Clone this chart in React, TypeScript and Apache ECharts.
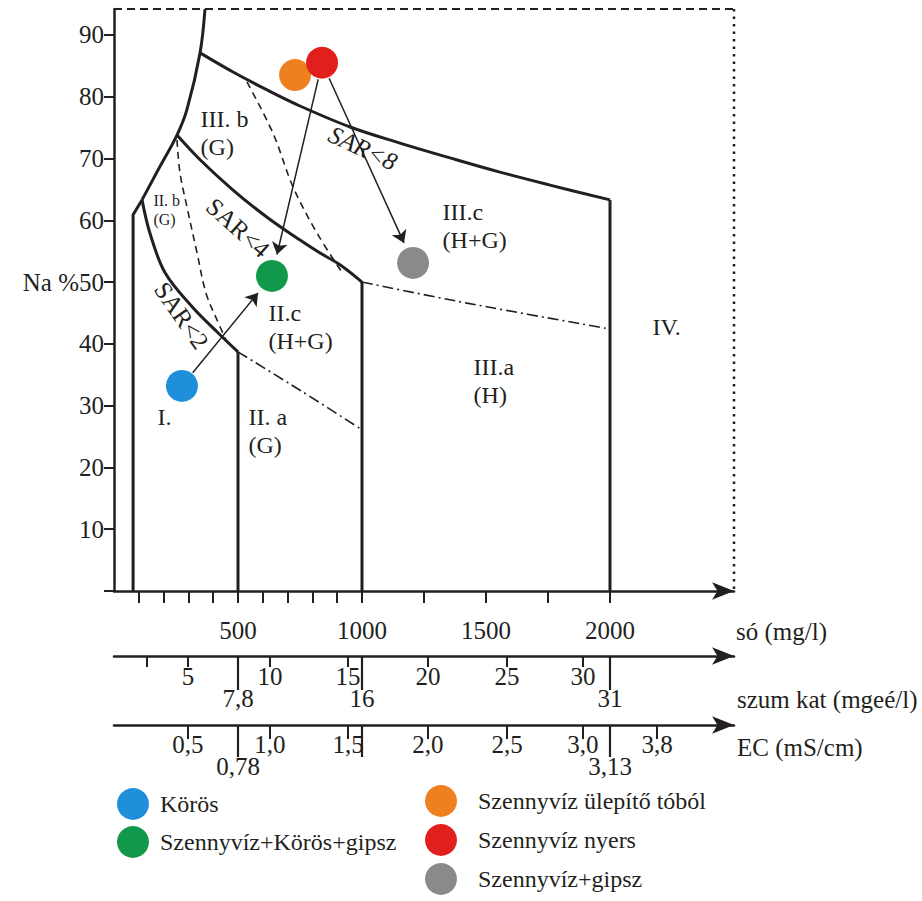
import React, { useEffect, useRef } from 'react';
import * as echarts from 'echarts';

// ---------- data ----------
const yTickValues = [0, 10, 20, 30, 40, 50, 60, 70, 80, 90];
const yLabelValues = [10, 20, 30, 40, 50, 60, 70, 80, 90];
const yMax = 94.2;
const xMax = 2500;

const soTickValues = [100, 200, 300, 400, 500, 600, 700, 800, 900, 1000, 1250, 1500, 1750, 2000];
const soLabelValues = [500, 1000, 1500, 2000];

// szum kat (mgeé/l) scale, expressed at só (mg/l) positions
const szumTickSo = [133, 298, 629, 944, 1266, 1585, 1891];
const szumTickLabels = ['', '5', '10', '15', '20', '25', '30'];
const szumLongSo = [500, 1000, 2000];
const szumLongLabels = ['7,8', '16', '31'];

// EC (mS/cm) scale, expressed at só (mg/l) positions
const ecTickSo = [298, 629, 944, 1266, 1585, 1891, 2190];
const ecTickLabels = ['0,5', '1,0', '1,5', '2,0', '2,5', '3,0', '3,8'];
const ecLongSo = [500, 1000, 2000];
const ecLongLabels = ['0,78', '', '3,13'];

// boundary curves [só, Na%]
const leftEdge = [[77, 0], [77, 60.9], [113, 63.3]];
const upperLeft = [[113, 63.3], [177, 68.1], [254, 73.8], [294, 77.9], [347, 87.1], [367, 94.2]];
const sar2 = [[113, 63.3], [145, 57.9], [206, 51.5], [315, 46.0], [419, 41.8], [500, 38.7]];
const sar2Ext = [[500, 38.7], [750, 32.5], [1000, 26.1]];
const sar4 = [[254, 73.8], [347, 69.8], [480, 64.9], [617, 60.5], [750, 56.8], [831, 54.7], [911, 52.8], [1000, 50.0]];
const sar4Ext = [[1000, 50.0], [1423, 46.6], [2000, 42.4]];
const sar8 = [[347, 87.1], [480, 84.0], [617, 81.1], [750, 78.5], [952, 75.1], [1153, 72.5], [1355, 70.1], [1556, 67.8], [1758, 65.7], [2000, 63.3]];
const v500 = [[500, 0], [500, 38.7]];
const v1000 = [[1000, 0], [1000, 50.0]];
const v2000 = [[2000, 0], [2000, 63.3]];
const dashA = [[254, 73.0], [266, 67.7], [294, 62.2], [335, 54.7], [371, 48.2], [415, 43.9], [452, 40.6]];
const dashB = [[536, 82.4], [641, 74.1], [722, 65.4], [819, 57.9], [919, 51.6]];

// region labels
const regionTexts = ['III. b\n(G)', 'II. b\n(G)', 'II.c\n(H+G)', 'I.', 'II. a\n(G)', 'III.c\n(H+G)', 'III.a\n(H)', 'IV.'];
const regionAnchors = [[347, 74.1], [157, 61.7], [621, 42.8], [173, 28.2], [540, 25.9], [1323, 59.0], [1448, 34.0], [2169, 42.7]];
const sarTexts = ['SAR<2', 'SAR<4', 'SAR<8'];
const sarAnchors = [[272, 44.6], [500, 58.8], [1004, 71.7]];

// water samples
const pointNames = ['Körös', 'Szennyvíz+Körös+gipsz', 'Szennyvíz ülepítő tóból', 'Szennyvíz nyers', 'Szennyvíz+gipsz'];
const pointSo = [274, 637, 730, 839, 1206];
const pointNa = [33.2, 51.0, 83.5, 85.5, 53.1];
const arrowPairs = [[0, 1], [3, 1], [3, 4]];

// ---------- styles ----------
const FONT = "'Liberation Serif', 'Times New Roman', serif";
const INK = '#231f20';
const pointColors = ['#1f8fdb', '#12984a', '#ef8020', '#e1201e', '#8a8a8a'];
const sarRotate = [-55, -42, -25];
const NUM = 25;
const TXT = 24;

function pick(list: number[], labels: string[], v: number) {
  for (let i = 0; i < list.length; i++) if (Math.abs(list[i] - v) < 0.5) return labels[i];
  return '';
}

function curve(id: string, data: number[][], lineStyle: any, smooth: number | boolean = false) {
  return {
    id, type: 'line', xAxisIndex: 0, yAxisIndex: 0, data, symbol: 'none', showSymbol: false,
    smooth, lineStyle, silent: true, clip: false, z: 2,
  };
}

export default function App() {
  const ref = useRef<HTMLDivElement>(null);
  useEffect(() => {
    if (!ref.current) return;
    const chart = echarts.init(ref.current, null, { renderer: 'svg' });
    const solid = { color: INK, width: 3 };
    const dashed = { color: INK, width: 1.6, type: [7, 5] };
    const dashDot = { color: INK, width: 1.6, type: [11, 4, 2, 4] };
    const txt = { fontFamily: FONT, color: INK };

    const baseX = {
      type: 'value', gridIndex: 0, min: 0, max: xMax, position: 'bottom',
      splitLine: { show: false },
    };
    const regionLabel = (extra: any) => ({
      show: true, fontFamily: FONT, color: INK, opacity: 1,
      textBorderWidth: 0, textBorderColor: 'transparent', textShadowBlur: 0, ...extra,
    });

    const option: any = {
      animation: false,
      backgroundColor: '#ffffff',
      grid: { left: 114, top: 9, width: 620, height: 582, containLabel: false, outerBoundsMode: 'none' },
      xAxis: [
        {
          ...baseX,
          axisLine: { onZero: false, lineStyle: { color: INK, width: 2.5 }, symbol: ['none', 'arrow'], symbolSize: [13, 22] },
          axisTick: { show: true, inside: false, length: 12, customValues: soTickValues, lineStyle: { color: INK, width: 2 } },
          axisLabel: { show: true, customValues: soLabelValues, margin: 27, fontSize: NUM, ...txt, formatter: (v: number) => String(v) },
        },
        {
          ...baseX, offset: 65,
          axisLine: { onZero: false, lineStyle: { color: INK, width: 2.5 }, symbol: ['none', 'arrow'], symbolSize: [13, 22] },
          axisTick: { show: true, inside: false, length: 11, customValues: szumTickSo, lineStyle: { color: INK, width: 2 } },
          axisLabel: { show: true, customValues: szumTickSo, margin: 8, fontSize: NUM, ...txt, formatter: (v: number) => pick(szumTickSo, szumTickLabels, v) },
        },
        {
          ...baseX, offset: 65,
          axisLine: { show: false, onZero: false },
          axisTick: { show: true, inside: false, length: 34, customValues: szumLongSo, lineStyle: { color: INK, width: 2.2 } },
          axisLabel: { show: true, customValues: szumLongSo, margin: 30, fontSize: NUM, ...txt, formatter: (v: number) => pick(szumLongSo, szumLongLabels, v) },
        },
        {
          ...baseX, offset: 134,
          axisLine: { onZero: false, lineStyle: { color: INK, width: 2.5 }, symbol: ['none', 'arrow'], symbolSize: [13, 22] },
          axisTick: { show: true, inside: false, length: 14, customValues: ecTickSo, lineStyle: { color: INK, width: 2 } },
          axisLabel: { show: true, customValues: ecTickSo, margin: 7, fontSize: NUM, ...txt, formatter: (v: number) => pick(ecTickSo, ecTickLabels, v) },
        },
        {
          ...baseX, offset: 134,
          axisLine: { show: false, onZero: false },
          axisTick: { show: true, inside: false, length: 32, customValues: ecLongSo, lineStyle: { color: INK, width: 2.2 } },
          axisLabel: { show: true, customValues: [ecLongSo[0], ecLongSo[2]], margin: 29, fontSize: NUM, ...txt, formatter: (v: number) => pick(ecLongSo, ecLongLabels, v) },
        },
      ],
      yAxis: [{
        type: 'value', min: 0, max: yMax, gridIndex: 0,
        splitLine: { show: false },
        axisLine: { show: true, onZero: false, lineStyle: { color: INK, width: 2.5 } },
        axisTick: { show: true, inside: false, length: 10, customValues: yTickValues, lineStyle: { color: INK, width: 2 } },
        axisLabel: {
          show: true, customValues: yLabelValues, margin: 10, fontSize: NUM, ...txt,
          formatter: (v: number) => (v === 50 ? 'Na %50' : String(v)),
        },
      }],
      legend: [
        {
          type: 'plain', data: [pointNames[0], pointNames[1]], orient: 'vertical', left: 117, top: 788, padding: 0,
          icon: 'circle', itemWidth: 32, itemHeight: 32, itemGap: 6, selectedMode: false,
          textStyle: { fontFamily: FONT, fontSize: TXT, color: INK, padding: [0, 0, 0, 6] },
        },
        {
          type: 'plain', data: [pointNames[2], pointNames[3], pointNames[4]], orient: 'vertical', left: 425, top: 785, padding: 0,
          icon: 'circle', itemWidth: 32, itemHeight: 32, itemGap: 7, selectedMode: false,
          textStyle: { fontFamily: FONT, fontSize: TXT, color: INK, padding: [0, 0, 0, 16] },
        },
      ],
      graphic: [
        { type: 'text', left: 736, top: 619, style: { text: 'só (mg/l)', font: `${NUM}px ${FONT}`, fill: INK } },
        { type: 'text', left: 737, top: 687, style: { text: 'szum kat (mgeé/l)', font: `${NUM}px ${FONT}`, fill: INK } },
        { type: 'text', left: 737, top: 735, style: { text: 'EC (mS/cm)', font: `${NUM}px ${FONT}`, fill: INK } },
      ],
      series: [
        curve('leftEdge', leftEdge, solid),
        curve('upperLeft', upperLeft, solid, 0.35),
        curve('sar2', sar2, solid, 0.35),
        curve('sar4', sar4, solid, 0.35),
        curve('sar8', sar8, solid, 0.35),
        curve('v500', v500, solid),
        curve('v1000', v1000, solid),
        curve('v2000', v2000, solid),
        curve('dashA', dashA, dashed, 0.35),
        curve('dashB', dashB, dashed, 0.35),
        curve('sar2Ext', sar2Ext, dashDot, 0.3),
        curve('sar4Ext', sar4Ext, dashDot, 0.3),
        curve('borderTop', [[0, yMax], [xMax, yMax]], { color: INK, width: 2, type: [8, 5] }),
        curve('borderRight', [[xMax, yMax], [xMax, 0]], { color: INK, width: 2.5, type: [2.5, 5] }),
        {
          id: 'regions', type: 'scatter', xAxisIndex: 0, yAxisIndex: 0, silent: true, z: 3,
          symbolSize: 1, itemStyle: { color: 'rgba(0,0,0,0)', opacity: 1 },
          emphasis: { disabled: true },
          data: [
            ...regionTexts.map((t, i) => ({
              value: regionAnchors[i],
              label: regionLabel({
                formatter: t, position: 'right', distance: 0, align: 'left',
                fontSize: i === 1 ? 16 : TXT, lineHeight: i === 1 ? 19 : 28,
              }),
            })),
            ...sarTexts.map((t, i) => ({
              value: sarAnchors[i],
              label: regionLabel({
                formatter: t, position: 'inside', rotate: sarRotate[i], fontSize: NUM,
                fontStyle: i === 2 ? 'italic' : 'normal',
              }),
            })),
          ],
        },
        ...pointNames.map((n, i) => ({
          name: n, type: 'scatter', xAxisIndex: 0, yAxisIndex: 0, z: 6,
          symbol: 'circle', symbolSize: 32,
          itemStyle: { color: pointColors[i], opacity: 1 },
          data: [[pointSo[i], pointNa[i]]],
        })),
        {
          id: 'arrows', type: 'lines', coordinateSystem: 'cartesian2d', xAxisIndex: 0, yAxisIndex: 0,
          z: 5, silent: true, symbol: ['none', 'arrow'], symbolSize: 12,
          lineStyle: { color: INK, width: 1.5, opacity: 1, curveness: 0 },
          data: [],
        },
      ],
    };
    chart.setOption(option);

    const R = 16;
    const finder = { seriesIndex: 0 };
    const arrowData = arrowPairs.map(([a, b]) => {
      const p = chart.convertToPixel(finder, [pointSo[a], pointNa[a]]) as number[];
      const q = chart.convertToPixel(finder, [pointSo[b], pointNa[b]]) as number[];
      const dx = q[0] - p[0];
      const dy = q[1] - p[1];
      const len = Math.hypot(dx, dy);
      const ux = dx / len;
      const uy = dy / len;
      const s = [p[0] + ux * (R + 1), p[1] + uy * (R + 1)];
      const e = [q[0] - ux * (R + 6), q[1] - uy * (R + 6)];
      return { coords: [chart.convertFromPixel(finder, s), chart.convertFromPixel(finder, e)] };
    });
    chart.setOption({ series: [{ id: 'arrows', data: arrowData }] });

    return () => chart.dispose();
  }, []);

  return (
    <div
      ref={ref}
      style={{ position: 'fixed', left: 0, top: 0, width: 922, height: 901, background: '#fff' }}
    />
  );
}
